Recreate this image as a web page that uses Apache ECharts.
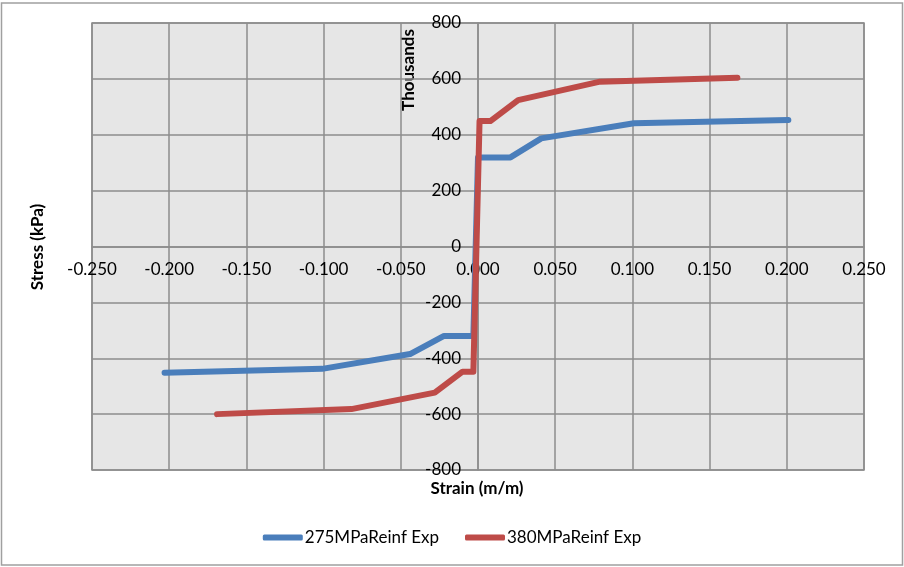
<!DOCTYPE html>
<html>
<head>
<meta charset="utf-8">
<script src="https://cdn.jsdelivr.net/npm/echarts@6/dist/echarts.min.js"></script>
<style>
html,body{margin:0;padding:0;background:#fff;}
#c{width:904px;height:567px;}
</style>
</head>
<body>
<div id="c"></div>
<script>
// Data (stress in thousands of kPa)
const seriesNames = ['275MPaReinf Exp', '380MPaReinf Exp'];
const strain275 = [-0.203, -0.101, -0.044, -0.022, -0.003, 0.000, 0.021, 0.041, 0.101, 0.201];
const stress275 = [-452, -438, -385, -320, -320, 319, 319, 387, 441, 453];
const strain380 = [-0.169, -0.082, -0.028, -0.010, -0.003, 0.001, 0.008, 0.026, 0.079, 0.168];
const stress380 = [-600, -582, -523, -448, -448, 449, 449, 524, 590, 604];

const FONT = 'Lato, "Open Sans", sans-serif';
const zip = (xs, ys) => xs.map((x, i) => [x, ys[i]]);

const GL = 92, GR = 864, GT = 23, GB = 470;
const chart = echarts.init(document.getElementById('c'), null, {renderer: 'canvas'});
chart.setOption({
  backgroundColor: '#ffffff',
  animation: false,
  grid: {
    left: GL, right: 904 - GR, top: GT, bottom: 567 - GB,
    show: true, backgroundColor: '#e6e6e6', borderColor: '#8c8c8c', borderWidth: 1.5
  },
  xAxis: {
    type: 'value', min: -0.25, max: 0.25, interval: 0.05,
    position: 'bottom', offset: -(GB - GT) / 2,
    axisLine: {onZero: false, lineStyle: {color: '#8c8c8c', width: 1.5}},
    axisTick: {show: false},
    splitLine: {lineStyle: {color: '#8c8c8c', width: 1.5}},
    axisLabel: {
      margin: 15, color: '#000', fontFamily: FONT, fontSize: 17,
      formatter: v => (Math.abs(v) < 1e-9 ? 0 : v).toFixed(3)
    }
  },
  yAxis: {
    type: 'value', min: -800, max: 800, interval: 200,
    position: 'left', offset: -(GR - GL) / 2,
    axisLine: {onZero: false, lineStyle: {color: '#8c8c8c', width: 1.5}},
    axisTick: {show: false},
    splitLine: {lineStyle: {color: '#8c8c8c', width: 1.5}},
    axisLabel: {margin: 17, color: '#000', fontFamily: FONT, fontSize: 17}
  },
  legend: {
    top: 524, left: 'center', itemGap: 26,
    itemWidth: 40, itemHeight: 6, icon: 'roundRect',
    textStyle: {color: '#000', fontFamily: FONT, fontSize: 17, padding: [0, 0, 0, -3]},
    data: seriesNames
  },
  graphic: [
    {type: 'rect', shape: {x: 1.5, y: 3, width: 901, height: 562},
     style: {fill: 'none', stroke: '#a0a0a0', lineWidth: 1.5}, z: 0, silent: true},
    {type: 'text', x: 38, y: 247, rotation: Math.PI / 2,
     style: {text: 'Stress (kPa)', fill: '#000', font: 'bold 17px ' + FONT, align: 'center', verticalAlign: 'middle'}},
    {type: 'text', x: 409, y: 70, rotation: Math.PI / 2,
     style: {text: 'Thousands', fill: '#000', font: 'bold 17px ' + FONT, align: 'center', verticalAlign: 'middle'}},
    {type: 'text', x: 477, y: 489,
     style: {text: 'Strain (m/m)', fill: '#000', font: 'bold 17px ' + FONT, align: 'center', verticalAlign: 'middle'}}
  ],
  series: [
    {name: seriesNames[0], type: 'line', data: zip(strain275, stress275), symbol: 'none',
     lineStyle: {color: '#4a7ebb', width: 6, cap: 'round', join: 'round'}, itemStyle: {color: '#4a7ebb'}},
    {name: seriesNames[1], type: 'line', data: zip(strain380, stress380), symbol: 'none',
     lineStyle: {color: '#be4b48', width: 6, cap: 'round', join: 'round'}, itemStyle: {color: '#be4b48'}}
  ]
});
</script>
</body>
</html>
